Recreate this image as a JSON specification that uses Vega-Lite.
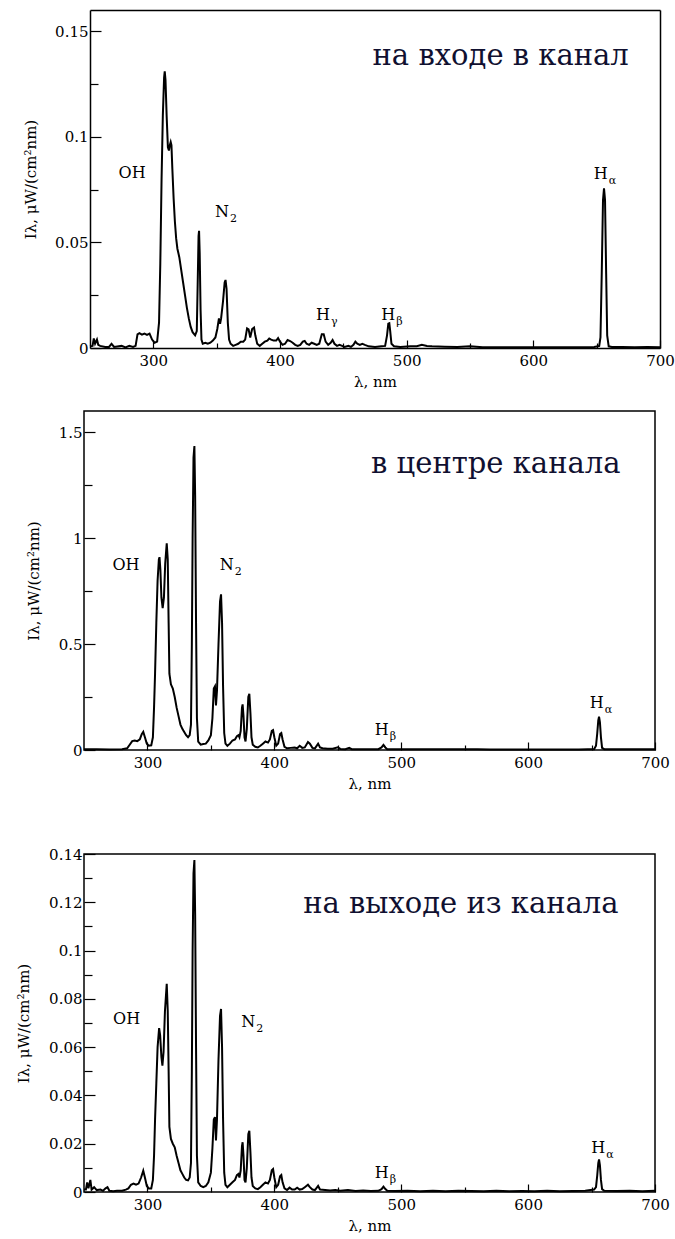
{
"$schema": "https://vega.github.io/schema/vega-lite/v6.json",
"padding": {"left": 15, "top": 10, "right": 0, "bottom": 0},
"config": {
  "view": {"stroke": "black", "strokeWidth": 1.5},
  "axis": {"grid": false, "domain": false, "tickColor": "black", "tickWidth": 1.2, "labelFont": "DejaVu Serif", "labelFontSize": 15, "labelColor": "black", "labelFlush": false, "labelOverlap": false, "titleFont": "DejaVu Serif", "titleFontSize": 15, "titleFontWeight": "normal", "titleColor": "black", "domainColor": "black", "domainWidth": 1.5},
  "text": {"font": "DejaVu Serif", "color": "black"}
},
"datasets": {
  "s1": [{"lam":250,"I":0.0008},{"lam":252,"I":0.001},{"lam":253,"I":0.0045},{"lam":254,"I":0.002},{"lam":255.5,"I":0.004},{"lam":256.5,"I":0.0015},{"lam":258,"I":0.001},{"lam":262,"I":0.0005},{"lam":265,"I":0.0005},{"lam":267,"I":0.002},{"lam":269,"I":0.0005},{"lam":275,"I":0.001},{"lam":278,"I":0.0003},{"lam":281,"I":0.001},{"lam":284,"I":0.0005},{"lam":286,"I":0.001},{"lam":287.5,"I":0.0065},{"lam":289,"I":0.007},{"lam":291,"I":0.0063},{"lam":293,"I":0.0068},{"lam":295,"I":0.0062},{"lam":297,"I":0.0068},{"lam":299,"I":0.004},{"lam":301,"I":0.0025},{"lam":303,"I":0.003},{"lam":304.5,"I":0.012},{"lam":305.5,"I":0.04},{"lam":306.5,"I":0.08},{"lam":307.5,"I":0.11},{"lam":308.5,"I":0.128},{"lam":309,"I":0.131},{"lam":309.6,"I":0.127},{"lam":310.5,"I":0.11},{"lam":311.5,"I":0.095},{"lam":312.3,"I":0.0935},{"lam":313,"I":0.096},{"lam":313.7,"I":0.0975},{"lam":314.3,"I":0.096},{"lam":315,"I":0.085},{"lam":316,"I":0.071},{"lam":317,"I":0.06},{"lam":318,"I":0.052},{"lam":319,"I":0.047},{"lam":320.5,"I":0.043},{"lam":322,"I":0.037},{"lam":323.5,"I":0.031},{"lam":325,"I":0.025},{"lam":326.5,"I":0.019},{"lam":328,"I":0.014},{"lam":329.5,"I":0.01},{"lam":331,"I":0.0075},{"lam":333,"I":0.006},{"lam":334.3,"I":0.008},{"lam":335,"I":0.03},{"lam":335.7,"I":0.053},{"lam":336.1,"I":0.0555},{"lam":336.6,"I":0.045},{"lam":337.3,"I":0.018},{"lam":338,"I":0.004},{"lam":339,"I":0.002},{"lam":341,"I":0.0025},{"lam":343,"I":0.002},{"lam":345,"I":0.0025},{"lam":347,"I":0.0035},{"lam":349,"I":0.005},{"lam":350.5,"I":0.009},{"lam":351.8,"I":0.014},{"lam":352.7,"I":0.0115},{"lam":353.5,"I":0.014},{"lam":355,"I":0.022},{"lam":356.3,"I":0.031},{"lam":357,"I":0.0322},{"lam":357.8,"I":0.028},{"lam":358.8,"I":0.012},{"lam":359.8,"I":0.004},{"lam":361,"I":0.002},{"lam":363,"I":0.001},{"lam":365,"I":0.0015},{"lam":367,"I":0.002},{"lam":369,"I":0.003},{"lam":371,"I":0.003},{"lam":372.5,"I":0.004},{"lam":374,"I":0.0093},{"lam":375.2,"I":0.0088},{"lam":376.5,"I":0.005},{"lam":378,"I":0.009},{"lam":379.5,"I":0.0097},{"lam":380.5,"I":0.006},{"lam":382,"I":0.002},{"lam":384,"I":0.001},{"lam":386,"I":0.002},{"lam":388,"I":0.003},{"lam":390,"I":0.0035},{"lam":391.5,"I":0.0045},{"lam":393,"I":0.004},{"lam":395,"I":0.0035},{"lam":397,"I":0.0035},{"lam":398.5,"I":0.0047},{"lam":400,"I":0.003},{"lam":402,"I":0.0015},{"lam":404,"I":0.002},{"lam":406,"I":0.0038},{"lam":408,"I":0.0033},{"lam":410,"I":0.0025},{"lam":412,"I":0.0015},{"lam":414,"I":0.001},{"lam":416,"I":0.0015},{"lam":418,"I":0.003},{"lam":419.5,"I":0.0033},{"lam":421,"I":0.002},{"lam":423,"I":0.0015},{"lam":425,"I":0.0025},{"lam":427,"I":0.002},{"lam":429,"I":0.0015},{"lam":431,"I":0.002},{"lam":433,"I":0.0065},{"lam":434.5,"I":0.0065},{"lam":436,"I":0.003},{"lam":438,"I":0.0015},{"lam":440,"I":0.0025},{"lam":441.5,"I":0.0038},{"lam":443,"I":0.002},{"lam":445,"I":0.001},{"lam":447,"I":0.0015},{"lam":449,"I":0.001},{"lam":451,"I":0.0005},{"lam":454,"I":0.001},{"lam":456,"I":0.0005},{"lam":458,"I":0.0015},{"lam":459.5,"I":0.003},{"lam":461,"I":0.002},{"lam":463,"I":0.0015},{"lam":465,"I":0.002},{"lam":467,"I":0.0015},{"lam":470,"I":0.0008},{"lam":475,"I":0.0005},{"lam":480,"I":0.0008},{"lam":483,"I":0.001},{"lam":484.5,"I":0.006},{"lam":485.5,"I":0.0115},{"lam":486.3,"I":0.0117},{"lam":487,"I":0.008},{"lam":488,"I":0.002},{"lam":490,"I":0.0008},{"lam":495,"I":0.0005},{"lam":503,"I":0.0008},{"lam":508,"I":0.0008},{"lam":512,"I":0.0015},{"lam":516,"I":0.001},{"lam":520,"I":0.0008},{"lam":530,"I":0.0006},{"lam":540,"I":0.0005},{"lam":550,"I":0.0008},{"lam":560,"I":0.0004},{"lam":570,"I":0.0003},{"lam":580,"I":0.0003},{"lam":590,"I":0.0003},{"lam":600,"I":0.0004},{"lam":610,"I":0.0003},{"lam":620,"I":0.0003},{"lam":630,"I":0.0003},{"lam":640,"I":0.0003},{"lam":648,"I":0.0005},{"lam":651,"I":0.0008},{"lam":652,"I":0.001},{"lam":653,"I":0.005},{"lam":654,"I":0.035},{"lam":655,"I":0.07},{"lam":655.8,"I":0.0756},{"lam":656.6,"I":0.07},{"lam":657.5,"I":0.035},{"lam":658.3,"I":0.006},{"lam":659.5,"I":0.0008},{"lam":662,"I":0.0005},{"lam":670,"I":0.0005},{"lam":680,"I":0.0003},{"lam":690,"I":0.0005},{"lam":700,"I":0.0003}],
  "s2": [{"lam":250,"I":0.004},{"lam":260,"I":0.003},{"lam":270,"I":0.002},{"lam":280,"I":0.004},{"lam":284,"I":0.008},{"lam":286,"I":0.025},{"lam":288,"I":0.042},{"lam":290,"I":0.045},{"lam":292,"I":0.042},{"lam":294,"I":0.05},{"lam":295.5,"I":0.075},{"lam":296.7,"I":0.086},{"lam":298,"I":0.06},{"lam":299.5,"I":0.03},{"lam":301,"I":0.02},{"lam":303,"I":0.022},{"lam":304.3,"I":0.06},{"lam":305.2,"I":0.2},{"lam":306,"I":0.36},{"lam":307,"I":0.6},{"lam":308,"I":0.8},{"lam":309,"I":0.9},{"lam":309.5,"I":0.91},{"lam":310.2,"I":0.85},{"lam":311,"I":0.72},{"lam":312,"I":0.67},{"lam":313,"I":0.72},{"lam":314,"I":0.88},{"lam":315.2,"I":0.975},{"lam":316,"I":0.9},{"lam":316.7,"I":0.6},{"lam":317.3,"I":0.36},{"lam":318.5,"I":0.31},{"lam":320,"I":0.29},{"lam":321.5,"I":0.25},{"lam":323,"I":0.2},{"lam":324.5,"I":0.16},{"lam":326,"I":0.12},{"lam":327.5,"I":0.1},{"lam":329,"I":0.085},{"lam":330.5,"I":0.07},{"lam":332,"I":0.06},{"lam":333.3,"I":0.07},{"lam":334.3,"I":0.12},{"lam":335,"I":0.5},{"lam":335.6,"I":1.0},{"lam":336.3,"I":1.38},{"lam":337,"I":1.435},{"lam":337.6,"I":1.2},{"lam":338.3,"I":0.6},{"lam":339,"I":0.15},{"lam":340,"I":0.04},{"lam":342,"I":0.025},{"lam":344,"I":0.028},{"lam":346,"I":0.03},{"lam":348,"I":0.045},{"lam":350,"I":0.07},{"lam":351.2,"I":0.15},{"lam":352.3,"I":0.29},{"lam":353.2,"I":0.3},{"lam":354,"I":0.21},{"lam":354.8,"I":0.28},{"lam":356,"I":0.5},{"lam":357.2,"I":0.7},{"lam":358,"I":0.735},{"lam":358.8,"I":0.6},{"lam":359.6,"I":0.3},{"lam":360.5,"I":0.08},{"lam":361.5,"I":0.03},{"lam":363,"I":0.02},{"lam":365,"I":0.03},{"lam":367,"I":0.045},{"lam":369,"I":0.05},{"lam":370.5,"I":0.065},{"lam":371.7,"I":0.07},{"lam":372.5,"I":0.06},{"lam":373.5,"I":0.09},{"lam":374.5,"I":0.2},{"lam":375,"I":0.215},{"lam":375.7,"I":0.16},{"lam":376.5,"I":0.06},{"lam":377.3,"I":0.04},{"lam":378.3,"I":0.1},{"lam":379.5,"I":0.25},{"lam":380.3,"I":0.265},{"lam":381.2,"I":0.17},{"lam":382,"I":0.06},{"lam":383,"I":0.025},{"lam":385,"I":0.015},{"lam":387,"I":0.012},{"lam":389,"I":0.02},{"lam":391,"I":0.03},{"lam":393,"I":0.04},{"lam":395,"I":0.035},{"lam":396.5,"I":0.05},{"lam":398,"I":0.09},{"lam":399,"I":0.094},{"lam":400,"I":0.06},{"lam":401.5,"I":0.02},{"lam":403,"I":0.03},{"lam":404.5,"I":0.075},{"lam":405.5,"I":0.08},{"lam":406.5,"I":0.05},{"lam":408,"I":0.015},{"lam":410,"I":0.008},{"lam":413,"I":0.01},{"lam":416,"I":0.012},{"lam":418,"I":0.008},{"lam":420,"I":0.02},{"lam":422,"I":0.01},{"lam":424,"I":0.012},{"lam":426.5,"I":0.038},{"lam":428,"I":0.03},{"lam":430,"I":0.01},{"lam":432,"I":0.008},{"lam":434.5,"I":0.03},{"lam":436,"I":0.012},{"lam":438,"I":0.008},{"lam":442,"I":0.006},{"lam":446,"I":0.006},{"lam":450,"I":0.013},{"lam":452,"I":0.005},{"lam":456,"I":0.004},{"lam":459,"I":0.01},{"lam":461,"I":0.004},{"lam":466,"I":0.004},{"lam":470,"I":0.003},{"lam":476,"I":0.004},{"lam":482,"I":0.004},{"lam":484.5,"I":0.012},{"lam":486,"I":0.024},{"lam":487.5,"I":0.012},{"lam":489,"I":0.004},{"lam":494,"I":0.003},{"lam":510,"I":0.003},{"lam":520,"I":0.003},{"lam":530,"I":0.003},{"lam":540,"I":0.003},{"lam":560,"I":0.003},{"lam":570,"I":0.002},{"lam":580,"I":0.002},{"lam":590,"I":0.002},{"lam":610,"I":0.002},{"lam":620,"I":0.002},{"lam":630,"I":0.002},{"lam":640,"I":0.002},{"lam":647,"I":0.003},{"lam":652,"I":0.004},{"lam":653.5,"I":0.02},{"lam":654.5,"I":0.08},{"lam":655.3,"I":0.14},{"lam":655.9,"I":0.157},{"lam":656.6,"I":0.13},{"lam":657.4,"I":0.06},{"lam":658.3,"I":0.01},{"lam":660,"I":0.004},{"lam":670,"I":0.003},{"lam":680,"I":0.003},{"lam":690,"I":0.003},{"lam":700,"I":0.003}],
  "s3": [{"lam":250,"I":0.001},{"lam":251.5,"I":0.001},{"lam":252.5,"I":0.004},{"lam":253.5,"I":0.0015},{"lam":255,"I":0.005},{"lam":256,"I":0.001},{"lam":258,"I":0.002},{"lam":260,"I":0.0008},{"lam":263,"I":0.001},{"lam":265,"I":0.0005},{"lam":267,"I":0.0015},{"lam":268.5,"I":0.002},{"lam":270,"I":0.0005},{"lam":273,"I":0.0003},{"lam":276,"I":0.0005},{"lam":280,"I":0.0005},{"lam":283,"I":0.001},{"lam":285,"I":0.0015},{"lam":287,"I":0.003},{"lam":289,"I":0.0035},{"lam":291,"I":0.003},{"lam":293,"I":0.0035},{"lam":295,"I":0.006},{"lam":296.7,"I":0.0088},{"lam":298,"I":0.006},{"lam":299.5,"I":0.0025},{"lam":301,"I":0.0015},{"lam":303,"I":0.0015},{"lam":304.3,"I":0.005},{"lam":305.2,"I":0.015},{"lam":306,"I":0.03},{"lam":307,"I":0.045},{"lam":308,"I":0.06},{"lam":309.2,"I":0.0679},{"lam":310,"I":0.065},{"lam":311,"I":0.056},{"lam":311.8,"I":0.0523},{"lam":312.7,"I":0.058},{"lam":313.8,"I":0.075},{"lam":315.2,"I":0.0862},{"lam":316,"I":0.075},{"lam":316.7,"I":0.05},{"lam":317.3,"I":0.027},{"lam":318.5,"I":0.022},{"lam":320,"I":0.02},{"lam":321.5,"I":0.0185},{"lam":323,"I":0.015},{"lam":324.5,"I":0.012},{"lam":326,"I":0.009},{"lam":327.5,"I":0.0075},{"lam":329,"I":0.006},{"lam":330.5,"I":0.005},{"lam":332,"I":0.0048},{"lam":333.3,"I":0.006},{"lam":334.3,"I":0.012},{"lam":335,"I":0.05},{"lam":335.6,"I":0.1},{"lam":336.3,"I":0.132},{"lam":337,"I":0.1375},{"lam":337.6,"I":0.115},{"lam":338.3,"I":0.06},{"lam":339,"I":0.015},{"lam":340,"I":0.004},{"lam":342,"I":0.0025},{"lam":344,"I":0.002},{"lam":346,"I":0.0025},{"lam":348,"I":0.004},{"lam":350,"I":0.008},{"lam":351.2,"I":0.018},{"lam":352.3,"I":0.03},{"lam":353.2,"I":0.031},{"lam":354,"I":0.0214},{"lam":354.8,"I":0.03},{"lam":356,"I":0.055},{"lam":357.2,"I":0.073},{"lam":358,"I":0.0758},{"lam":358.8,"I":0.06},{"lam":359.6,"I":0.03},{"lam":360.5,"I":0.008},{"lam":361.5,"I":0.003},{"lam":363,"I":0.002},{"lam":365,"I":0.003},{"lam":367,"I":0.004},{"lam":369,"I":0.005},{"lam":370.5,"I":0.007},{"lam":371.7,"I":0.0075},{"lam":372.5,"I":0.006},{"lam":373.5,"I":0.009},{"lam":374.5,"I":0.019},{"lam":375,"I":0.0206},{"lam":375.7,"I":0.015},{"lam":376.5,"I":0.005},{"lam":377.3,"I":0.004},{"lam":378.3,"I":0.01},{"lam":379.5,"I":0.024},{"lam":380.3,"I":0.0254},{"lam":381.2,"I":0.016},{"lam":382,"I":0.006},{"lam":383,"I":0.0025},{"lam":385,"I":0.0015},{"lam":387,"I":0.0012},{"lam":389,"I":0.002},{"lam":391,"I":0.003},{"lam":393,"I":0.004},{"lam":395,"I":0.0035},{"lam":396.5,"I":0.005},{"lam":398,"I":0.009},{"lam":399,"I":0.0095},{"lam":400,"I":0.006},{"lam":401.5,"I":0.002},{"lam":403,"I":0.003},{"lam":404.5,"I":0.0065},{"lam":405.5,"I":0.007},{"lam":406.5,"I":0.004},{"lam":408,"I":0.0015},{"lam":410,"I":0.0008},{"lam":412,"I":0.0018},{"lam":414,"I":0.001},{"lam":416,"I":0.001},{"lam":418,"I":0.0018},{"lam":420,"I":0.001},{"lam":422,"I":0.0012},{"lam":424,"I":0.002},{"lam":426.5,"I":0.003},{"lam":428,"I":0.002},{"lam":430,"I":0.001},{"lam":432,"I":0.0008},{"lam":434.5,"I":0.0025},{"lam":436,"I":0.001},{"lam":440,"I":0.0008},{"lam":444,"I":0.0006},{"lam":448,"I":0.0008},{"lam":452,"I":0.0005},{"lam":458,"I":0.0008},{"lam":464,"I":0.0004},{"lam":470,"I":0.0006},{"lam":476,"I":0.0004},{"lam":482,"I":0.0005},{"lam":484.5,"I":0.0012},{"lam":486,"I":0.0022},{"lam":487.5,"I":0.0012},{"lam":489,"I":0.0005},{"lam":495,"I":0.0004},{"lam":505,"I":0.0005},{"lam":515,"I":0.0003},{"lam":525,"I":0.0005},{"lam":535,"I":0.0003},{"lam":545,"I":0.0005},{"lam":555,"I":0.0004},{"lam":565,"I":0.0003},{"lam":575,"I":0.0005},{"lam":585,"I":0.0003},{"lam":595,"I":0.0004},{"lam":605,"I":0.0003},{"lam":615,"I":0.0005},{"lam":625,"I":0.0003},{"lam":635,"I":0.0004},{"lam":645,"I":0.0005},{"lam":652,"I":0.001},{"lam":653.5,"I":0.002},{"lam":654.5,"I":0.007},{"lam":655.3,"I":0.012},{"lam":655.9,"I":0.0135},{"lam":656.6,"I":0.011},{"lam":657.4,"I":0.005},{"lam":658.3,"I":0.0012},{"lam":660,"I":0.0005},{"lam":670,"I":0.0004},{"lam":680,"I":0.0005},{"lam":690,"I":0.0003},{"lam":700,"I":0.0005}],
  "a1": [{"lam":283.2,"I":0.0828,"label":"OH","sub":""},{"lam":354.2,"I":0.0644,"label":"N","sub":"2"},{"lam":434,"I":0.0156,"label":"H","sub":"γ"},{"lam":485.5,"I":0.0156,"label":"H","sub":"β"},{"lam":653.2,"I":0.0823,"label":"H","sub":"α"}],
  "a2": [{"lam":283.1,"I":0.873,"label":"OH","sub":""},{"lam":362.5,"I":0.873,"label":"N","sub":"2"},{"lam":484.6,"I":0.094,"label":"H","sub":"β"},{"lam":654.1,"I":0.22,"label":"H","sub":"α"}],
  "a3": [{"lam":283.6,"I":0.0716,"label":"OH","sub":""},{"lam":379.5,"I":0.0705,"label":"N","sub":"2"},{"lam":484.6,"I":0.0077,"label":"H","sub":"β"},{"lam":655.3,"I":0.0181,"label":"H","sub":"α"}],
  "t1": [{"lam":574.2,"I":0.1339,"label":"на входе в канал"}],
  "t2": [{"lam":574.5,"I":1.309,"label":"в центре канала"}],
  "t3": [{"lam":547,"I":0.1154,"label":"на выходе из канала"}]
},
"columns": 1,
"spacing": 54,
"concat": [
 {
  "columns": 1,
  "spacing": 21,
  "concat": [
   {
    "width": 576, "height": 338,
    "view": {"stroke": null},
    "resolve": {"axis": {"x": "independent", "y": "independent"}},
    "layer": [
     {"data": {"name": "s1"}, "mark": {"type": "line", "color": "black", "strokeWidth": 2},
      "encoding": {
       "x": {"field": "lam", "type": "quantitative", "scale": {"domain": [250, 700], "range": [6, 576], "nice": false, "zero": false}, "axis": {"values": [300, 400, 500, 600, 700], "format": "d", "title": "λ, nm", "tickSize": -8, "labelPadding": 13, "titlePadding": 6, "domain": true}},
       "y": {"field": "I", "type": "quantitative", "scale": {"domain": [0, 0.16], "nice": false}, "axis": {"values": [0, 0.05, 0.1, 0.15], "format": "~g", "title": "Iλ, μW/(cm²nm)", "tickSize": -11, "labelPadding": 13, "titlePadding": 16, "offset": -6, "domain": true}}
      }},
     {"data": {"name": "a1"}, "mark": {"type": "text", "fontSize": 16, "baseline": "middle"},
      "encoding": {
       "x": {"field": "lam", "type": "quantitative", "axis": {"orient": "bottom", "values": [350, 450, 550, 650], "labels": false, "title": null, "tickSize": -5}},
       "y": {"field": "I", "type": "quantitative", "axis": {"orient": "left", "values": [0.025, 0.075, 0.125], "labels": false, "title": null, "tickSize": -8, "offset": -6}},
       "text": {"field": "label"}
      }},
     {"data": {"name": "a1"}, "transform": [{"filter": "datum.sub != ''"}], "mark": {"type": "text", "fontSize": 11, "align": "left", "baseline": "middle", "dx": 8, "dy": 7},
      "encoding": {
       "x": {"field": "lam", "type": "quantitative", "axis": {"orient": "top", "labels": false, "ticks": false, "title": null, "domain": true}},
       "y": {"field": "I", "type": "quantitative", "axis": {"orient": "right", "labels": false, "ticks": false, "title": null, "domain": true}},
       "text": {"field": "sub"}}},
     {"data": {"name": "t1"}, "mark": {"type": "text", "fontSize": 29, "baseline": "alphabetic", "color": "#101030"},
      "encoding": {"x": {"field": "lam", "type": "quantitative", "axis": null}, "y": {"field": "I", "type": "quantitative", "axis": null}, "text": {"field": "label"}}}
    ]
   },
   {
    "width": 571, "height": 339,
    "resolve": {"axis": {"x": "independent", "y": "independent"}},
    "layer": [
     {"data": {"name": "s2"}, "mark": {"type": "line", "color": "black", "strokeWidth": 2},
      "encoding": {
       "x": {"field": "lam", "type": "quantitative", "scale": {"domain": [250, 700], "nice": false, "zero": false}, "axis": {"values": [300, 400, 500, 600, 700], "format": "d", "title": "λ, nm", "tickSize": -8, "labelPadding": 13, "titlePadding": 6}},
       "y": {"field": "I", "type": "quantitative", "scale": {"domain": [0, 1.6], "nice": false}, "axis": {"values": [0, 0.5, 1, 1.5], "format": "~g", "title": "Iλ, μW/(cm²nm)", "tickSize": -11, "labelPadding": 13, "titlePadding": 17}}
      }},
     {"data": {"name": "a2"}, "mark": {"type": "text", "fontSize": 16, "baseline": "middle"},
      "encoding": {
       "x": {"field": "lam", "type": "quantitative", "axis": {"orient": "bottom", "values": [350, 450, 550, 650], "labels": false, "title": null, "tickSize": -5}},
       "y": {"field": "I", "type": "quantitative", "axis": {"orient": "left", "values": [0.25, 0.75, 1.25], "labels": false, "title": null, "tickSize": -8}},
       "text": {"field": "label"}
      }},
     {"data": {"name": "a2"}, "transform": [{"filter": "datum.sub != ''"}], "mark": {"type": "text", "fontSize": 11, "align": "left", "baseline": "middle", "dx": 8, "dy": 7},
      "encoding": {"x": {"field": "lam", "type": "quantitative", "axis": null}, "y": {"field": "I", "type": "quantitative", "axis": null}, "text": {"field": "sub"}}},
     {"data": {"name": "t2"}, "mark": {"type": "text", "fontSize": 29, "baseline": "alphabetic", "color": "#101030"},
      "encoding": {"x": {"field": "lam", "type": "quantitative", "axis": null}, "y": {"field": "I", "type": "quantitative", "axis": null}, "text": {"field": "label"}}}
    ]
   }
  ]
 },
 {
  "width": 571, "height": 338,
  "resolve": {"axis": {"x": "independent", "y": "independent"}},
  "layer": [
   {"data": {"name": "s3"}, "mark": {"type": "line", "color": "black", "strokeWidth": 2},
    "encoding": {
     "x": {"field": "lam", "type": "quantitative", "scale": {"domain": [250, 700], "nice": false, "zero": false}, "axis": {"values": [300, 400, 500, 600, 700], "format": "d", "title": "λ, nm", "tickSize": -8, "labelPadding": 13, "titlePadding": 6}},
     "y": {"field": "I", "type": "quantitative", "scale": {"domain": [0, 0.14], "nice": false}, "axis": {"values": [0, 0.02, 0.04, 0.06, 0.08, 0.1, 0.12, 0.14], "format": "~g", "title": "Iλ, μW/(cm²nm)", "tickSize": -11, "labelPadding": 13, "titlePadding": 17}}
    }},
   {"data": {"name": "a3"}, "mark": {"type": "text", "fontSize": 16, "baseline": "middle"},
    "encoding": {
     "x": {"field": "lam", "type": "quantitative", "axis": {"orient": "bottom", "values": [350, 450, 550, 650], "labels": false, "title": null, "tickSize": -5}},
     "y": {"field": "I", "type": "quantitative", "axis": {"orient": "left", "values": [0.01, 0.03, 0.05, 0.07, 0.09, 0.11, 0.13], "labels": false, "title": null, "tickSize": -8}},
     "text": {"field": "label"}
    }},
   {"data": {"name": "a3"}, "transform": [{"filter": "datum.sub != ''"}], "mark": {"type": "text", "fontSize": 11, "align": "left", "baseline": "middle", "dx": 8, "dy": 7},
    "encoding": {"x": {"field": "lam", "type": "quantitative", "axis": null}, "y": {"field": "I", "type": "quantitative", "axis": null}, "text": {"field": "sub"}}},
   {"data": {"name": "t3"}, "mark": {"type": "text", "fontSize": 29, "baseline": "alphabetic", "color": "#101030"},
    "encoding": {"x": {"field": "lam", "type": "quantitative", "axis": null}, "y": {"field": "I", "type": "quantitative", "axis": null}, "text": {"field": "label"}}}
  ]
 }
]
}
